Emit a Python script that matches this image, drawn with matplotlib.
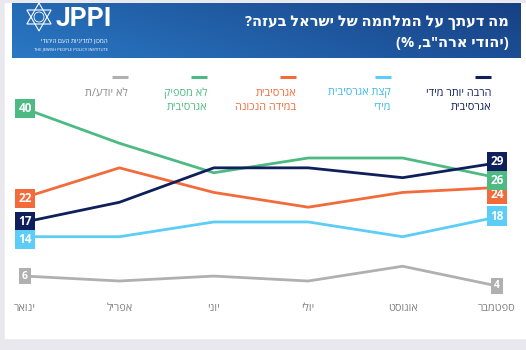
import matplotlib
matplotlib.use("Agg")
import matplotlib.pyplot as plt
import numpy as np
from matplotlib.patches import Rectangle, Polygon

months = ["ינואר", "אפריל", "יוני", "יולי", "אוגוסט", "ספטמבר"]

much_too = [17, 21, 28, 28, 26, 29]
bit_too = [14, 14, 17, 17, 14, 18]
right_amount = [22, 28, 23, 20, 23, 24]
not_enough = [40, 33, 27, 30, 30, 26]
dont_know = [6, 5, 6, 5, 8, 4]

series_names = [
    "הרבה יותר מידי\nאגרסיבית",
    "קצת אגרסיבית\nמידי",
    "אגרסיבית\nבמידה הנכונה",
    "לא מספיק\nאגרסיבית",
    "לא יודע/ת",
]

title = "מה דעתך על המלחמה של ישראל בעזה?"
subtitle = '(יהודי ארה"ב, %)'

NAVY = "#0e1f5b"
LBLUE = "#5ccdf6"
ORANGE = "#f26b3a"
GREEN = "#4dba84"
GRAY = "#b0b0b0"


def rtl(s):
    # matplotlib has no bidi support: flip to visual order
    r = s[::-1]
    return r.translate(str.maketrans("()", ")("))


plt.rcParams['font.family'] = ['Open Sans', 'DejaVu Sans']

W, H = 526, 350
fig = plt.figure(figsize=(W / 100, H / 100), dpi=100)
fig.patch.set_facecolor("#e9e8ee")

bg = fig.add_axes([0, 0, 1, 1])
bg.set_xlim(0, W)
bg.set_ylim(H, 0)
bg.axis("off")
bg.add_patch(Rectangle((5, 3), W - 5, 335, color="white", zorder=0))

# header gradient
gx = np.linspace(0, 1, 200)
gy = np.linspace(0, 1, 40)
GX, GY = np.meshgrid(gx, gy)
t = np.clip(0.75 * GX + 0.25 * (1 - GY), 0, 1)
c0 = np.array([0x2a, 0x78, 0xc4]) / 255
c1 = np.array([0x17, 0x40, 0x84]) / 255
img = c0[None, None, :] * (1 - t[..., None]) + c1[None, None, :] * t[..., None]
bg.imshow(img, extent=(12, 521, 58, 3), aspect="auto", zorder=1)

# logo: star of David
cx, cy, r = 39, 17, 14
a1 = np.deg2rad([90, 210, 330])
a2 = np.deg2rad([270, 30, 150])
bg.add_patch(Polygon(np.c_[cx + r * np.cos(a1), cy - r * np.sin(a1)],
                     closed=True, fill=False, ec="white", lw=0.8, zorder=2))
bg.add_patch(Polygon(np.c_[cx + r * np.cos(a2), cy - r * np.sin(a2)],
                     closed=True, fill=False, ec="white", lw=0.8, zorder=2))
bg.add_patch(plt.Circle((cx, cy), 5, fill=False, ec="white", lw=0.6, zorder=2))
bg.text(55, 19, "JPPI", color="white", fontsize=19, fontweight="bold",
        va="center", ha="left", zorder=3, family=["Roboto", "DejaVu Sans"])
bg.text(108, 41, rtl("המכון למדיניות העם היהודי"), color="white", fontsize=4.5,
        va="center", ha="right", zorder=3)
bg.text(108, 49, "THE JEWISH PEOPLE POLICY INSTITUTE", color="white", fontsize=3,
        va="center", ha="right", zorder=3)

bg.text(509, 23, rtl(title), color="white", fontsize=10.5, fontweight="bold",
        ha="right", va="center", zorder=3)
bg.text(509, 43, rtl(subtitle), color="white", fontsize=10.5, fontweight="bold",
        ha="right", va="center", zorder=3)

# legend
series = [much_too, bit_too, right_amount, not_enough, dont_know]
colors = [NAVY, LBLUE, ORANGE, GREEN, GRAY]
text_colors = [NAVY, "#3bb8ec", ORANGE, GREEN, "#8a8a8a"]
leg_right = [491, 391, 296, 207, 128]
for name, col, tcol, xr in zip(series_names, colors, text_colors, leg_right):
    bg.plot([xr - 16, xr], [77, 77], color=col, lw=2.2, solid_capstyle="butt", zorder=3)
    for k, line in enumerate(name.split("\n")):
        bg.text(xr, 93 + 14 * k, rtl(line), color=tcol, fontsize=7.8,
                ha="right", va="center", zorder=3)

# chart
y0, ppu = 305.6, 4.92
top_val = 42
ax = fig.add_axes([25 / W, 1 - y0 / H, (497 - 25) / W, top_val * ppu / H])
ax.set_xlim(0, len(months) - 1)
ax.set_ylim(0, top_val)
ax.patch.set_alpha(0)
for s in ax.spines.values():
    s.set_visible(False)
ax.set_yticks([])
x = np.arange(len(months))
ax.set_xticks(x)
ax.set_xticklabels([rtl(m) for m in months], color="#808080", fontsize=7.8)
ax.tick_params(axis="x", length=0, pad=-2)

for i in [4, 1, 2, 3, 0]:
    ax.plot(x, series[i], color=colors[i], lw=2, clip_on=False, zorder=3)

# end labels (small nudges to avoid overlap)
start_nudge = {0: 0, 1: -0.6, 2: -0.3, 3: 0, 4: 0}
end_nudge = {0: 0.3, 1: 0.2, 2: -1.5, 3: -0.5, 4: 0}
for i in range(5):
    fs = 7.5 if i == 4 else 8.5
    for xi, val, nd in [(0, series[i][0], start_nudge[i]), (5, series[i][-1], end_nudge[i])]:
        ax.text(xi, val + nd, str(val), color="white", fontsize=fs, fontweight="bold",
                ha="center", va="center", zorder=6, clip_on=False,
                bbox=dict(boxstyle="square,pad=0.26", fc=colors[i], ec="none"))

fig.savefig("out.png", dpi=100, facecolor=fig.get_facecolor())
